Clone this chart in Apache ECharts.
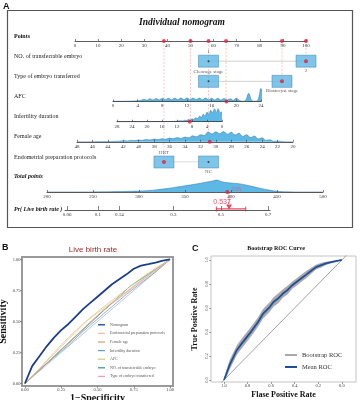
<!DOCTYPE html>
<html>
<head>
<meta charset="utf-8">
<script src="https://cdn.jsdelivr.net/npm/echarts@6/dist/echarts.min.js"></script>
<style>
html, body { margin: 0; padding: 0; background: #fff; }
#chart { width: 360px; height: 400px; }
</style>
</head>
<body>
<div id="chart"></div>
<script>
// ---- panel A: nomogram ----
var rowNames = ['Points', 'NO. of transferrable embryo', 'Type of embryo transferred', 'AFC',
	'Infertility duration', 'Female age', 'Endometrial preparation protocols'];

var embryoLevels = ['1', '2'];
var embryoPoints = [57.8, 100];
var typeLevels = ['Cleavage stage', 'Blastocyst stage'];
var typePoints = [57.8, 89.6];
var protocolLevels = ['HRT', 'NC'];
var protocolPoints = [38.5, 57.8];

// the patient shown on the nomogram
var selectedLevel = [1, 1, 0];          // embryo "2", blastocyst, HRT
var selectedPoints = [100, 89.6, 65.4, 50, 57.8, 38.5];
var selectedAfc = 18.4;
var selectedDuration = 8.6;
var selectedAge = 30.8;
var selectedTotal = 396;
var selectedPr = 0.537;
var prCI = [0.48, 0.61];

var afcX = [0, 0.5, 1, 1.5, 2, 2.5, 3, 3.5, 4, 4.5, 5, 5.5, 6, 6.5, 7, 7.5, 8, 8.5, 9, 9.5,
	10, 10.5, 11, 11.5, 12, 12.5, 13, 13.5, 14, 14.5, 15, 15.5, 16, 16.5, 17, 17.5, 18, 18.5, 19, 19.5,
	20, 20.5, 21, 21.5, 22, 22.5, 23, 23.5, 24, 24.5];
var afcDensity = [0.2, 0.2, 0.2, 0.2, 0.3, 0.3, 0.4, 0.5, 0.8, 1.0, 2.2, 1.3, 2.8, 1.5, 3.0, 1.6, 3.2, 1.7, 3.3, 1.7,
	3.4, 1.8, 3.5, 1.8, 3.5, 1.8, 3.5, 1.8, 3.4, 1.7, 3.4, 1.7, 3.3, 1.6, 3.2, 1.5, 3.0, 1.4, 2.8, 1.2,
	3.2, 1.0, 0.3, 1.2, 8.0, 1.2, 0.3, 1.5, 13.0, 0.2];

var durX = [0, 0.5, 1, 1.5, 2, 2.5, 3, 3.5, 4, 4.5, 5, 5.5, 6, 6.5, 7, 7.5, 8, 8.5, 9, 9.5,
	10, 10.5, 11, 12, 13, 14, 16, 20, 28];
var durDensity = [10, 9, 13, 9.5, 13, 9, 11.5, 7.5, 9.5, 6, 7.5, 4.5, 5.5, 3.2, 4, 2.2, 3, 1.6, 2.2, 1.1,
	1.5, 0.7, 0.9, 0.5, 0.3, 0.2, 0.1, 0.05, 0];

var ageX = [20, 21, 21.5, 22, 22.5, 23, 23.5, 24, 24.5, 25, 25.5, 26, 26.5, 27, 27.5, 28, 28.5, 29, 29.5, 30,
	30.5, 31, 31.5, 32, 32.5, 33, 33.5, 34, 34.5, 35, 35.5, 36, 36.5, 37, 37.5, 38, 38.5, 39, 39.5, 40,
	40.5, 41, 41.5, 42, 42.5, 43, 43.5, 44, 46, 48];
var ageDensity = [0, 0.1, 0.3, 0.7, 0.5, 2.0, 1.4, 4.0, 2.8, 5.8, 4.2, 7.0, 5.4, 8.6, 6.8, 9.6, 7.6, 10.2, 8.0, 10.0,
	7.8, 9.8, 6.4, 7.0, 5.0, 6.0, 4.0, 4.8, 3.4, 4.2, 3.0, 3.7, 2.6, 3.1, 2.2, 2.7, 1.8, 2.2, 1.5, 1.8,
	1.2, 1.4, 0.9, 1.0, 0.6, 0.5, 0.3, 0.2, 0.05, 0];

var totalX = [200, 240, 250, 260, 270, 280, 290, 300, 310, 320, 330, 340, 350, 360, 370, 380, 385, 390,
	400, 410, 420, 430, 440, 450, 460, 470, 500];
var totalDensity = [0, 0.05, 0.1, 0.2, 0.35, 0.5, 0.7, 0.9, 1.4, 2.3, 3.4, 4.8, 6.2, 7.7, 9.3, 11, 12, 10.2,
	9, 8.1, 6.2, 4.1, 2.2, 0.7, 0.2, 0.05, 0];

var prTicks = [0.06, 0.1, 0.14, 0.3, 0.5, 0.7];
var prRange = [0.058, 0.707];

// ---- panel B: ROC of the nomogram and single predictors ----
var bFpr = [0, 0.05, 0.1, 0.15, 0.2, 0.25, 0.3, 0.35, 0.4, 0.45, 0.5, 0.55, 0.6, 0.65, 0.7, 0.75, 0.8, 0.85, 0.9, 0.95, 1];
var bNomogram = [0, 0.14, 0.22, 0.30, 0.37, 0.43, 0.48, 0.54, 0.60, 0.65, 0.70, 0.75, 0.80, 0.84, 0.88, 0.925, 0.95, 0.962, 0.975, 0.99, 1];
var bFpr10 = [0, 0.1, 0.2, 0.3, 0.4, 0.5, 0.6, 0.7, 0.8, 0.9, 1];
var bAfc = [0, 0.12, 0.25, 0.37, 0.48, 0.58, 0.67, 0.76, 0.85, 0.93, 1];
var bAge = [0, 0.11, 0.22, 0.33, 0.44, 0.55, 0.65, 0.74, 0.83, 0.92, 1];
var bDuration = [0, 0.11, 0.21, 0.31, 0.42, 0.52, 0.62, 0.72, 0.81, 0.9, 1];
var bProtocolFpr = [0, 0.42, 1];
var bProtocolTpr = [0, 0.5, 1];
var bEmbryoFpr = [0, 0.72, 1];
var bEmbryoTpr = [0, 0.78, 1];
var bTypeFpr = [0, 0.55, 1];
var bTypeTpr = [0, 0.6, 1];
var bTicks = [0, 0.25, 0.5, 0.75, 1];

// ---- panel C: bootstrap ROC (x axis is specificity, reversed) ----
var cSpec = [1, 0.98, 0.95, 0.92, 0.89, 0.86, 0.82, 0.78, 0.75, 0.72, 0.70, 0.67, 0.64, 0.61, 0.58, 0.54, 0.50, 0.46, 0.42, 0.38,
	0.34, 0.30, 0.26, 0.22, 0.18, 0.14, 0.10, 0.05, 0];
var cMean = [0, 0.05, 0.13, 0.19, 0.25, 0.29, 0.34, 0.39, 0.43, 0.47, 0.50, 0.55, 0.58, 0.61, 0.65, 0.68, 0.72, 0.75, 0.79, 0.82,
	0.85, 0.88, 0.91, 0.94, 0.955, 0.97, 0.98, 0.99, 1];
var cHigh = [0.01, 0.08, 0.17, 0.23, 0.29, 0.33, 0.38, 0.43, 0.47, 0.51, 0.54, 0.59, 0.62, 0.65, 0.69, 0.72, 0.755, 0.785, 0.82, 0.85,
	0.88, 0.91, 0.935, 0.96, 0.975, 0.985, 0.99, 0.997, 1];
var cLow = [0, 0.02, 0.09, 0.15, 0.21, 0.25, 0.30, 0.35, 0.39, 0.43, 0.46, 0.51, 0.54, 0.57, 0.61, 0.64, 0.685, 0.715, 0.76, 0.79,
	0.82, 0.85, 0.885, 0.92, 0.935, 0.955, 0.97, 0.983, 1];
var cTicks = [0, 0.2, 0.4, 0.6, 0.8, 1];


var serif = '"Liberation Serif", "DejaVu Serif", serif';
var sans = '"Liberation Sans", Arial, sans-serif';
var blueFill = '#5cb8e4';
var blueEdge = '#2f72a8';
var red = '#e41f3a';

function zip(xs, ys) {
	return xs.map(function (x, i) { return [x, ys[i]]; });
}
function logit(p) {
	return Math.log(p / (1 - p));
}

function varAxis(grid, extra) {
	return Object.assign({
		gridIndex: grid, type: 'value', z: 3,
		axisLine: { show: true, onZero: false, lineStyle: { color: '#333', width: 0.8 } },
		axisTick: { show: true, inside: true, length: 2, lineStyle: { color: '#333', width: 0.6 } },
		axisLabel: { fontSize: 5, margin: 2, color: '#333', fontFamily: serif },
		splitLine: { show: false }
	}, extra);
}
function hiddenAxis(grid, max) {
	return { gridIndex: grid, type: 'value', min: 0, max: max, show: false };
}
function rocAxis(grid, extra) {
	return Object.assign({
		gridIndex: grid, type: 'value', nameLocation: 'middle',
		axisLine: { show: false, onZero: false },
		axisTick: { show: true, length: 2, lineStyle: { color: '#666', width: 0.6 } },
		axisLabel: { fontSize: 4.5, margin: 1.5, color: '#444', fontFamily: serif },
		splitLine: { show: false },
		nameTextStyle: { fontWeight: 'bold', fontFamily: serif, color: '#111' }
	}, extra);
}

var series = [];

// box rows: connector, boxes, inner dots
var boxRows = [
	{ row: rowNames[1], levels: embryoLevels, points: embryoPoints },
	{ row: rowNames[2], levels: typeLevels, points: typePoints },
	{ row: rowNames[6], levels: protocolLevels, points: protocolPoints }
];
var boxData = [], dotData = [], hitData = [];
boxRows.forEach(function (b, k) {
	series.push({
		type: 'line', xAxisIndex: 0, yAxisIndex: 0, symbol: 'none', silent: true, z: 1,
		data: b.points.map(function (p) { return [p, b.row]; }),
		lineStyle: { color: '#c4c4c4', width: 0.8 }
	});
	b.levels.forEach(function (lv, j) {
		boxData.push({ name: lv, value: [b.points[j], b.row], label: { position: j === 0 ? 'top' : 'bottom' } });
		(j === selectedLevel[k] ? hitData : dotData).push([b.points[j], b.row]);
	});
});

// guide lines from points axis down to each chosen value
selectedPoints.forEach(function (p, i) {
	series.push({
		type: 'line', xAxisIndex: 0, yAxisIndex: 0, symbol: 'none', silent: true, z: 1,
		data: [[p, rowNames[0]], [p, rowNames[i + 1]]],
		lineStyle: { color: '#f2a3a3', width: 0.6, type: [2, 1.5] }
	});
});

series.push({
	type: 'scatter', xAxisIndex: 0, yAxisIndex: 0, data: boxData, clip: false, z: 3,
	symbol: 'rect', symbolSize: [20, 12],
	itemStyle: { color: blueFill, borderColor: '#3d7fb6', borderWidth: 0.6 },
	label: { show: true, formatter: '{b}', fontSize: 5, distance: 1, color: '#333', fontFamily: serif }
});
series.push({
	type: 'scatter', xAxisIndex: 0, yAxisIndex: 0, data: dotData, clip: false, z: 4,
	symbolSize: 2, itemStyle: { color: '#222' }
});
series.push({
	type: 'scatter', xAxisIndex: 0, yAxisIndex: 0, data: hitData, clip: false, z: 4,
	symbolSize: 4, itemStyle: { color: red }
});
series.push({
	type: 'scatter', xAxisIndex: 0, yAxisIndex: 0, clip: false, z: 6,
	data: selectedPoints.map(function (p) { return [p, rowNames[0]]; }),
	symbolSize: 4, itemStyle: { color: red }
});

// density rows
[[1, afcX, afcDensity, selectedAfc], [2, durX, durDensity, selectedDuration],
 [3, ageX, ageDensity, selectedAge], [4, totalX, totalDensity, selectedTotal]].forEach(function (d) {
	series.push({
		type: 'line', xAxisIndex: d[0], yAxisIndex: d[0], data: zip(d[1], d[2]),
		smooth: 0.4, symbol: 'none', clip: false, silent: true, z: 2,
		lineStyle: { color: blueEdge, width: 0.5 },
		areaStyle: { color: blueFill, opacity: 1 }
	});
	series.push({
		type: 'scatter', xAxisIndex: d[0], yAxisIndex: d[0], data: [[d[3], 0]], clip: false, z: 6,
		symbolSize: 4, itemStyle: { color: red },
		label: d[0] === 4 ? {
			show: true, formatter: String(selectedTotal), position: 'right', distance: 2, offset: [0, -3],
			color: '#e0607e', fontSize: 6, fontFamily: sans
		} : { show: false }
	});
});

// predicted probability
var prX = logit(selectedPr);
series.push({
	type: 'line', xAxisIndex: 5, yAxisIndex: 5, data: [[prX, 1], [prX, 0.3]], symbol: 'none', clip: false, z: 5,
	lineStyle: { color: red, width: 0.7, type: [2, 1.2] }
});
series.push({
	type: 'scatter', xAxisIndex: 5, yAxisIndex: 5, data: [[prX, 0.17]], clip: false, z: 5,
	symbol: 'triangle', symbolRotate: 180, symbolSize: [6, 5], itemStyle: { color: red }
});
series.push({
	type: 'line', xAxisIndex: 5, yAxisIndex: 5, clip: false, z: 5,
	data: [[logit(prCI[0]), 0.06], [logit(prCI[1]), 0.06]],
	symbol: 'rect', symbolSize: [0.8, 5], itemStyle: { color: red }, lineStyle: { color: red, width: 1 }
});
series.push({
	type: 'scatter', xAxisIndex: 5, yAxisIndex: 5, data: [[prX, 0.45]], clip: false, z: 5,
	symbolSize: 1, itemStyle: { color: 'rgba(0,0,0,0)' },
	label: { show: true, formatter: String(selectedPr), position: 'inside', offset: [-7, 0], color: red, fontSize: 7, fontFamily: sans }
});

// panel B
series.push({
	type: 'line', xAxisIndex: 6, yAxisIndex: 6, data: [[0, 0], [1, 1]], symbol: 'none', silent: true,
	lineStyle: { color: '#b3c1d3', width: 0.9 }
});
[['Type of embryo transferred', '#f1a0b4', zip(bTypeFpr, bTypeTpr)],
 ['NO. of transferrable embryo', '#3f9a87', zip(bEmbryoFpr, bEmbryoTpr)],
 ['AFC', '#d3cf7e', zip(bFpr10, bAfc)],
 ['Infertility duration', '#6e9fc9', zip(bFpr10, bDuration)],
 ['Female age', '#d9a877', zip(bFpr10, bAge)],
 ['Endometrial preparation protocols', '#f3c0a6', zip(bProtocolFpr, bProtocolTpr)],
 ['Nomogram', '#1c3f8c', zip(bFpr, bNomogram)]].forEach(function (s) {
	var main = s[0] === 'Nomogram';
	series.push({
		type: 'line', name: s[0], xAxisIndex: 6, yAxisIndex: 6, data: s[2], symbol: 'none', z: main ? 4 : 3,
		itemStyle: { color: s[1] }, lineStyle: { color: s[1], width: main ? 1.8 : 0.8 }
	});
});

// panel C
series.push({
	type: 'line', xAxisIndex: 7, yAxisIndex: 7, data: [[1.05, -0.05], [-0.05, 1.05]], symbol: 'none', silent: true,
	lineStyle: { color: '#a0a0a0', width: 1 }
});
series.push({
	type: 'custom', name: 'Bootstrap ROC', xAxisIndex: 7, yAxisIndex: 7, data: [[0.5, 0.5]], z: 2,
	itemStyle: { color: '#a9a9a9' },
	renderItem: function (params, api) {
		var pts = [];
		for (var i = 0; i < cSpec.length; i++) pts.push(api.coord([cSpec[i], cHigh[i]]));
		for (var j = cSpec.length - 1; j >= 0; j--) pts.push(api.coord([cSpec[j], cLow[j]]));
		return { type: 'polygon', shape: { points: pts }, style: { fill: '#a9a9a9' } };
	}
});
series.push({
	type: 'line', name: 'Mean ROC', xAxisIndex: 7, yAxisIndex: 7, data: zip(cSpec, cMean), symbol: 'none', z: 4,
	itemStyle: { color: '#1f4f9c' }, lineStyle: { color: '#1f4f9c', width: 1.8 }
});

function text(x, y, str, font, extra) {
	return {
		type: 'text', x: x, y: y, silent: true,
		style: Object.assign({ text: str, font: font, fill: '#111', align: 'left', verticalAlign: 'middle' }, extra || {})
	};
}

var option = {
	animation: false,
	backgroundColor: '#fff',
	grid: [
		{ left: 75, top: 41, width: 231, height: 121, outerBoundsMode: 'none' },
		{ left: 113, top: 87.5, width: 148, height: 14, outerBoundsMode: 'none' },
		{ left: 117, top: 107.7, width: 105, height: 14, outerBoundsMode: 'none' },
		{ left: 77, top: 127.8, width: 216, height: 14, outerBoundsMode: 'none' },
		{ left: 47, top: 178, width: 276, height: 14, outerBoundsMode: 'none' },
		{ left: 65, top: 192, width: 205, height: 18, outerBoundsMode: 'none' },
		{ left: 22, top: 257, width: 151, height: 129, show: true, borderColor: '#9a9a9a', borderWidth: 2, outerBoundsMode: 'none' },
		{ left: 211, top: 256, width: 145, height: 126, show: true, borderColor: '#c4c4c4', borderWidth: 1, outerBoundsMode: 'none' }
	],
	xAxis: [
		varAxis(0, { position: 'top', min: 0, max: 100, interval: 10,
			axisTick: { show: true, inside: false, length: 2, lineStyle: { color: '#333', width: 0.6 } },
			axisLabel: { inside: true, fontSize: 5, margin: 2, color: '#333', fontFamily: serif } }),
		varAxis(1, { min: 0, max: 24, interval: 4 }),
		varAxis(2, { min: 0, max: 28, interval: 4, inverse: true }),
		varAxis(3, { min: 20, max: 48, interval: 2, inverse: true }),
		varAxis(4, { min: 200, max: 500, interval: 50 }),
		varAxis(5, { min: logit(prRange[0]), max: logit(prRange[1]),
			axisTick: { show: true, inside: true, length: 4, customValues: prTicks.map(logit), lineStyle: { color: '#333', width: 0.6 } },
			axisLabel: { fontSize: 5, margin: 2, color: '#333', fontFamily: serif, customValues: prTicks.map(logit),
				formatter: function (v) { return String(Math.round(100 / (1 + Math.exp(-v))) / 100); } } }),
		rocAxis(6, { min: -0.02, max: 1.02, name: '1\u2212Specificity', nameGap: 5,
			axisTick: { show: true, length: 2, customValues: bTicks, lineStyle: { color: '#666', width: 0.6 } },
			axisLabel: { fontSize: 4.5, margin: 1.5, color: '#444', fontFamily: serif, customValues: bTicks,
				formatter: function (v) { return v.toFixed(2); } },
			nameTextStyle: { fontSize: 10, fontWeight: 'bold', fontFamily: serif, color: '#111' } }),
		rocAxis(7, { min: -0.12, max: 1.11, inverse: true, name: 'Flase Positive Rate', nameGap: 9,
			axisTick: { show: true, length: 2, customValues: cTicks, lineStyle: { color: '#666', width: 0.6 } },
			axisLabel: { fontSize: 4.5, margin: 1.5, color: '#444', fontFamily: serif, customValues: cTicks,
				formatter: function (v) { return v.toFixed(1); } },
			nameTextStyle: { fontSize: 8, fontWeight: 'bold', fontFamily: serif, color: '#111' } })
	],
	yAxis: [
		{
			gridIndex: 0, type: 'category', data: rowNames, inverse: true, boundaryGap: false,
			axisLine: { show: false }, axisTick: { show: false }, splitLine: { show: false },
			axisLabel: {
				align: 'left', verticalAlign: 'middle', margin: 61, padding: [0, 0, 10, 0],
				fontSize: 6, color: '#222', fontFamily: serif,
				formatter: function (v) { return v === 'Points' ? '{b|' + v + '}' : v; },
				rich: { b: { fontSize: 6, fontWeight: 'bold', color: '#111', fontFamily: serif } }
			}
		},
		hiddenAxis(1, 14), hiddenAxis(2, 14), hiddenAxis(3, 14), hiddenAxis(4, 14), hiddenAxis(5, 1),
		rocAxis(6, { min: -0.02, max: 1.02, name: 'Sensitivity', nameGap: 11,
			axisTick: { show: true, length: 2, customValues: bTicks, lineStyle: { color: '#666', width: 0.6 } },
			axisLabel: { fontSize: 4.5, margin: 1.5, color: '#444', fontFamily: serif, customValues: bTicks,
				formatter: function (v) { return v.toFixed(2); } },
			nameTextStyle: { fontSize: 10, fontWeight: 'bold', fontFamily: serif, color: '#111' } }),
		rocAxis(7, { min: -0.017, max: 1.033, name: 'True Positive Rate', nameGap: 12,
			axisTick: { show: true, length: 2, customValues: cTicks, lineStyle: { color: '#666', width: 0.6 } },
			axisLabel: { fontSize: 4.5, margin: 1.5, rotate: 90, color: '#444', fontFamily: serif, customValues: cTicks,
				formatter: function (v) { return v.toFixed(1); } },
			nameTextStyle: { fontSize: 8, fontWeight: 'bold', fontFamily: serif, color: '#111' } })
	],
	legend: [
		{
			data: ['Nomogram', 'Endometrial preparation protocols', 'Female age', 'Infertility duration', 'AFC',
				'NO. of transferrable embryo', 'Type of embryo transferred'],
			orient: 'vertical', left: 98, top: 320.5, icon: 'rect', itemWidth: 7, itemHeight: 1.3, itemGap: 0,
			selectedMode: false, padding: 0,
			textStyle: { fontSize: 4, lineHeight: 8.6, color: '#555', fontFamily: serif }
		},
		{
			data: ['Bootstrap ROC', 'Mean ROC'],
			orient: 'vertical', left: 285, top: 349, icon: 'rect', itemWidth: 12, itemHeight: 2, itemGap: 0,
			selectedMode: false, padding: 0,
			textStyle: { fontSize: 6.5, lineHeight: 12, color: '#333', fontFamily: serif }
		}
	],
	graphic: [
		{ type: 'rect', silent: true, shape: { x: 7.5, y: 10.5, width: 345, height: 217 },
			style: { fill: null, stroke: '#555', lineWidth: 1.2 } },
		text(3, 7, 'A', 'bold 9px ' + sans),
		text(182, 23, 'Individual nomogram', 'italic bold 9.5px ' + serif, { align: 'center' }),
		text(14, 176, 'Total points', 'italic bold 6px ' + serif),
		text(14, 209, 'Pr( Live birth rate )', 'italic bold 6px ' + serif),
		text(2, 248, 'B', 'bold 9px ' + sans),
		text(93, 250, 'Live birth rate', '8px ' + sans, { align: 'center', fill: '#9c2a2a' }),
		text(192, 249, 'C', 'bold 9px ' + sans),
		text(276, 248, 'Bootstrap ROC Curve', 'bold 6px ' + serif, { align: 'center' })
	],
	series: series
};

var chart = echarts.init(document.getElementById('chart'));
chart.setOption(option);
</script>
</body>
</html>
